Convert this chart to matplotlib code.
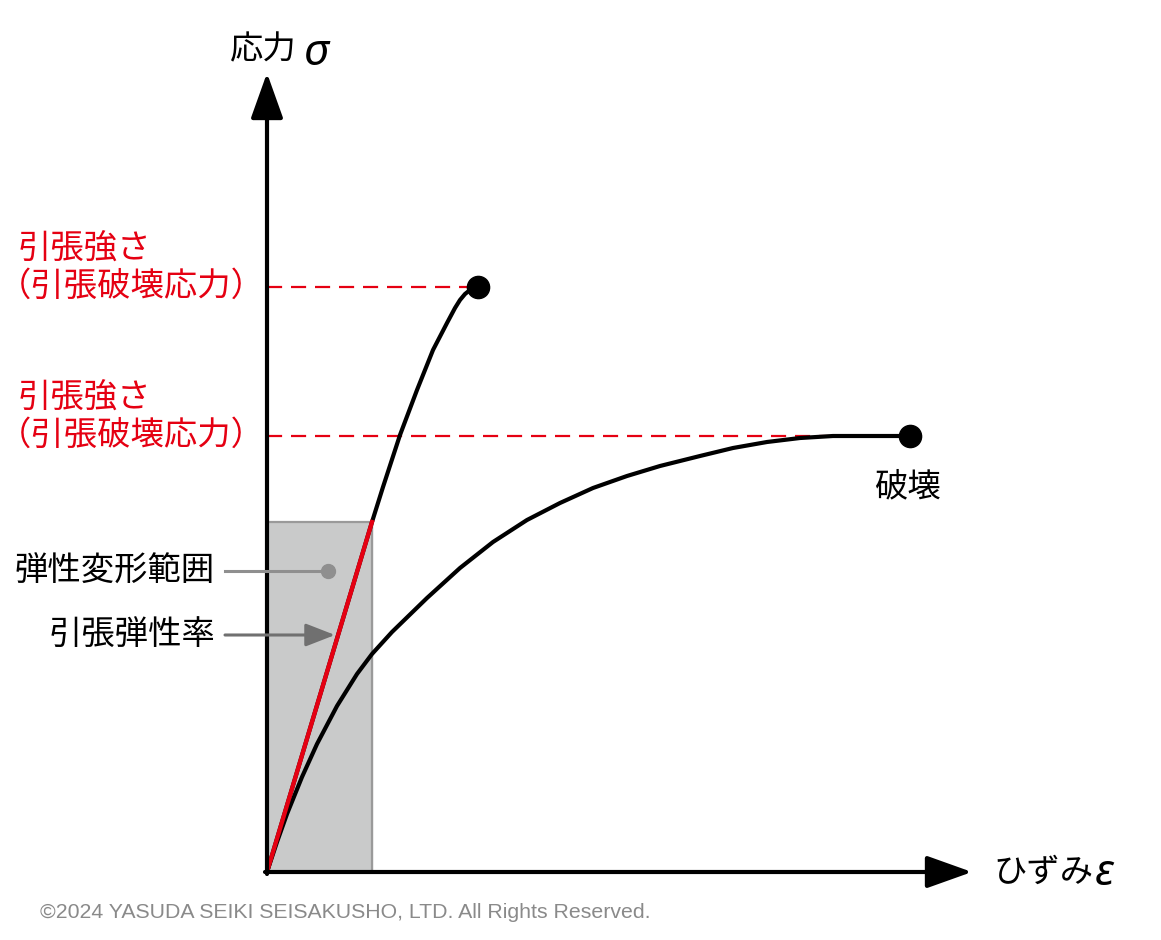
import matplotlib
matplotlib.use("Agg")
import matplotlib.pyplot as plt

plt.rcParams['font.family'] = ['Noto Sans CJK JP', 'DejaVu Sans']

# --- data (strain / stress in drawing units, origin at the axes corner) ---
# elastic range box and its modulus line
elastic_strain = [0, 105]
elastic_stress = [0, 350]

# brittle material: straight, then bends over to fracture
brittle_strain = [0, 105, 116, 133, 150, 166, 180, 188, 193, 198, 203, 211]
brittle_stress = [0, 350, 385, 437, 482, 522, 549, 564, 572, 578, 582, 585]

# ductile material: curves over and flattens before fracture
ductile_strain = [0, 10, 20, 35, 50, 70, 90, 105, 125, 160, 193, 226,
                  260, 293, 326, 360, 393, 433, 466, 500, 533, 566, 600, 643]
ductile_stress = [0, 30, 58, 95, 128, 166, 198, 218, 240, 274, 304, 330,
                  352, 369, 384, 396, 406, 416, 424, 430, 434, 436, 436, 436]

strength_labels = ["引張強さ", "（引張破壊応力）"]
axis_labels = ["応力", "ひずみ"]
axis_symbols = ["σ", "ε"]
note_labels = ["弾性変形範囲", "引張弾性率"]
fracture_label = "破壊"
copyright_text = "©2024 YASUDA SEIKI SEISAKUSHO, LTD. All Rights Reserved."

RED = '#e50012'

fig = plt.figure(figsize=(11.61, 9.40), dpi=100)
ax = fig.add_axes([0, 0, 1, 1])
ax.set_xlim(-267, 894)
ax.set_ylim(-68, 872)
ax.axis('off')

# elastic deformation range
ax.fill_between(elastic_strain, 0, elastic_stress[-1], color='#c9caca', zorder=1)
ax.plot([elastic_strain[0], elastic_strain[1], elastic_strain[1]],
        [elastic_stress[1], elastic_stress[1], 0], color='#9a9a9a', lw=1.6, zorder=1.5)

# tensile strength dashed guides
ax.plot([0, brittle_strain[-1]], [brittle_stress[-1]] * 2, color=RED, lw=1.6,
        dashes=(6.8, 4), zorder=2)
ax.plot([0, ductile_strain[-1]], [ductile_stress[-1]] * 2, color=RED, lw=1.6,
        dashes=(6.8, 4), zorder=2)

# curves
ax.plot(brittle_strain, brittle_stress, color='black', lw=3, solid_capstyle='round',
        solid_joinstyle='round', zorder=3)
ax.plot(ductile_strain, ductile_stress, color='black', lw=3, solid_capstyle='round',
        solid_joinstyle='round', zorder=3)
ax.plot(elastic_strain, elastic_stress, color=RED, lw=3.1, zorder=4)
ax.plot(brittle_strain[-1], brittle_stress[-1], 'o', color='black', ms=16, zorder=5)
ax.plot(ductile_strain[-1], ductile_stress[-1], 'o', color='black', ms=16, zorder=5)

# axes arrows
axis_style = dict(arrowstyle='-|>,head_length=28,head_width=10', color='black',
                  lw=3, mutation_scale=1, shrinkA=0, shrinkB=0)
ax.annotate('', xy=(0, 799), xytext=(0, -2), arrowprops=axis_style, zorder=6)
ax.annotate('', xy=(705, 0), xytext=(-2, 0), arrowprops=axis_style, zorder=6)

sym_font = dict(family=['Noto Sans', 'DejaVu Sans'], style='italic', weight='light',
                fontsize=32, ha='left', va='baseline')
ax.text(-37, 822, axis_labels[0], fontsize=24, ha='left', va='center')
ax.text(36, 807, axis_symbols[0], **sym_font)
ax.text(726, 0, axis_labels[1], fontsize=24, ha='left', va='center')
ax.text(828, -13, axis_symbols[1], **sym_font)
ax.text(640, 385, fracture_label, fontsize=24, ha='center', va='center')

# red labels for tensile strength
for y in (brittle_stress[-1], ductile_stress[-1]):
    ax.text(-249, y + 38, strength_labels[0], fontsize=24, color=RED, ha='left', va='center')
    ax.text(-269, y + 1, strength_labels[1], fontsize=24, color=RED, ha='left', va='center')

# callouts
ax.plot([-42, 61], [301, 301], color='#8f8f8f', lw=2.2, zorder=6)
ax.plot(61, 301, 'o', color='#8f8f8f', ms=10, zorder=6)
ax.text(-52, 301, note_labels[0], fontsize=24, ha='right', va='center')

ax.annotate('', xy=(68, 237), xytext=(-42, 237), zorder=6,
            arrowprops=dict(arrowstyle='-|>,head_length=18,head_width=7', color='#707070',
                            lw=2.2, mutation_scale=1, shrinkA=0, shrinkB=0))
ax.text(-52, 237, note_labels[1], fontsize=24, ha='right', va='center')

ax.text(-227, -40, copyright_text, fontsize=15.3, color='#8a8a8a', ha='left', va='center',
        family=['Liberation Sans', 'DejaVu Sans'])

fig.savefig('out.png', dpi=100)
